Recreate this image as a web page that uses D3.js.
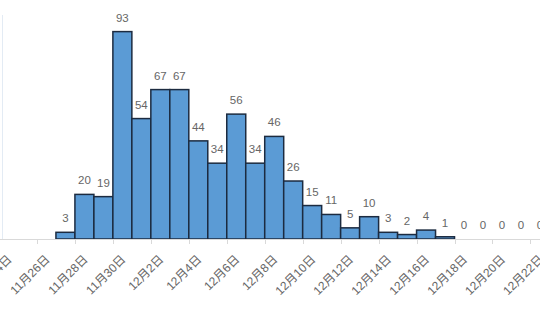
<!DOCTYPE html>
<html>
<head>
<meta charset="utf-8">
<script src="https://cdn.jsdelivr.net/npm/d3@7"></script>
<style>
  body { margin: 0; background: #fff; }
  svg { display: block; }
  text { font-family: "Liberation Sans", "Noto Sans CJK SC", sans-serif; fill: #666666; }
</style>
</head>
<body>
<svg></svg>
<script>
const WIDTH = 540;
const HEIGHT = 320;

// categories: one per day, 11/24 .. 12/22
const DAYS = ['11月24日', '11月25日', '11月26日', '11月27日', '11月28日', '11月29日', '11月30日',
              '12月1日', '12月2日', '12月3日', '12月4日', '12月5日', '12月6日', '12月7日',
              '12月8日', '12月9日', '12月10日', '12月11日', '12月12日', '12月13日', '12月14日',
              '12月15日', '12月16日', '12月17日', '12月18日', '12月19日', '12月20日', '12月21日',
              '12月22日'];

// daily counts (null = no data for that day)
const COUNTS = [null, null, null, 3, 20, 19, 93,
                54, 67, 67, 44, 34, 56, 34,
                46, 26, 15, 11, 5, 10, 3,
                2, 4, 1, 0, 0, 0, 0,
                0];

// every second day gets a label
const TICK_DAYS = DAYS.filter((d, i) => i % 2 === 0);

const BASE_Y = 239;

const svg = d3.select('svg')
              .attr('width', WIDTH)
              .attr('height', HEIGHT);

const x = d3.scaleBand()
            .domain(DAYS)
            .range([-1, -1 + DAYS.length * 18.98])
            .padding(0);

const y = d3.scaleLinear()
            .domain([0, 100])
            .range([BASE_Y, BASE_Y - 223]);

const data = DAYS.map((d, i) => ({ day: d, value: COUNTS[i] }));

// faint left edge of the plot area
svg.append('line')
   .attr('x1', 2.5).attr('x2', 2.5)
   .attr('y1', 15).attr('y2', BASE_Y)
   .attr('stroke', '#e3ebf4')
   .attr('stroke-width', 1);

// bars
svg.append('g')
   .selectAll('rect')
   .data(data.filter(d => d.value !== null))
   .enter().append('rect')
   .attr('x', d => x(d.day))
   .attr('y', d => y(d.value))
   .attr('width', x.bandwidth())
   .attr('height', d => BASE_Y - y(d.value))
   .attr('fill', '#5b9bd5')
   .attr('stroke', '#1c2b40')
   .attr('stroke-width', 1.5);

// x axis: baseline + tick marks between days
const axis = svg.append('g');
axis.append('line')
    .attr('x1', 0).attr('x2', WIDTH)
    .attr('y1', BASE_Y + 0.5).attr('y2', BASE_Y + 0.5)
    .attr('stroke', '#d9d9d9');

axis.selectAll('line.tick')
    .data(TICK_DAYS)
    .enter().append('line')
    .attr('class', 'tick')
    .attr('x1', d => Math.round(x(d)) + 0.5)
    .attr('x2', d => Math.round(x(d)) + 0.5)
    .attr('y1', BASE_Y)
    .attr('y2', BASE_Y + 5)
    .attr('stroke', '#d9d9d9');

axis.selectAll('text')
    .data(TICK_DAYS)
    .enter().append('text')
    .attr('text-anchor', 'end')
    .attr('font-size', '12px')
    .attr('transform', d => `translate(${x(d) + x.bandwidth() / 2 + 1},${BASE_Y + 18}) rotate(-45)`)
    .attr('dy', '0.35em')
    .text(d => d);

// value labels
svg.append('g')
   .selectAll('text')
   .data(data.filter(d => d.value !== null))
   .enter().append('text')
   .attr('text-anchor', 'middle')
   .attr('font-size', '11.5px')
   .attr('x', d => x(d.day) + x.bandwidth() / 2)
   .attr('y', d => y(d.value) - 10)
   .text(d => d.value);
</script>
</body>
</html>
